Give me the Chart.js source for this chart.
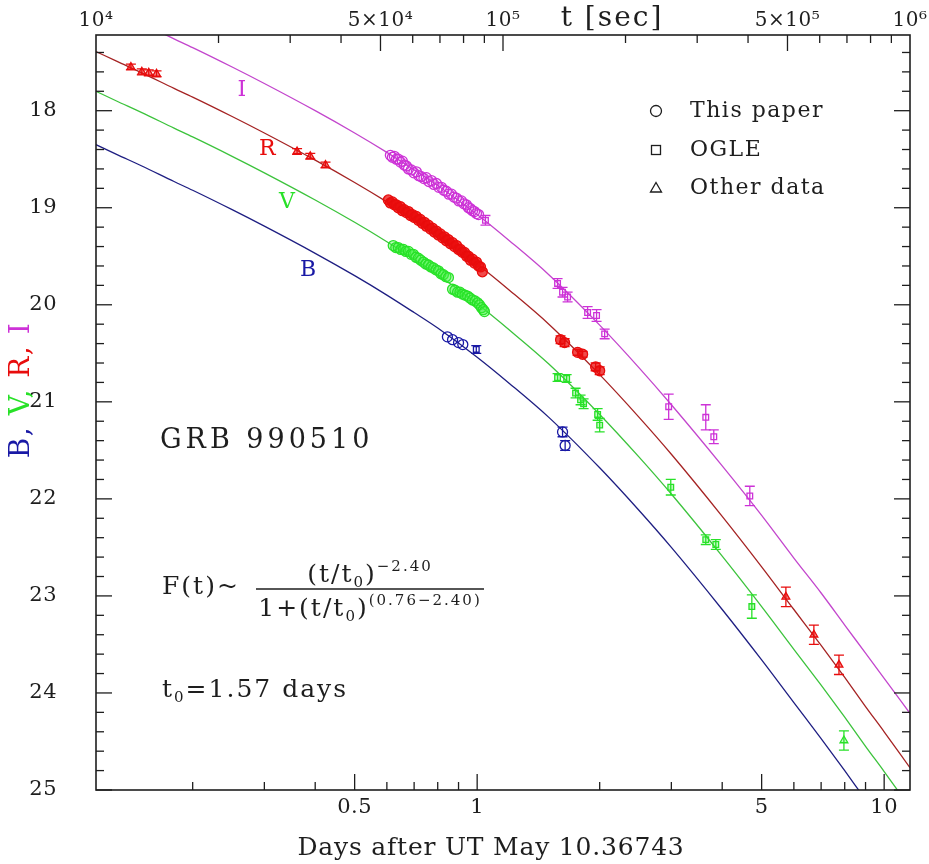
<!DOCTYPE html>
<html><head><meta charset="utf-8">
<script src="https://cdn.jsdelivr.net/npm/chart.js@4.4.1/dist/chart.umd.min.js"></script>
<style>html,body{margin:0;padding:0;background:#fff;overflow:hidden}</style>
</head><body>
<canvas id="c" width="929" height="864"></canvas>
<script>
const FONT = "'DejaVu Serif', 'Liberation Serif', serif";

// ---------- axes ----------
const xDaysMin = 0.11574, xDaysMax = 11.574;
const xSecMin = 1e4, xSecMax = 1e6;
const yMin = 17.22, yMax = 25;
const yMajorTicks = [18,19,20,21,22,23,24,25];
const yMinorTicks = [17.4,17.6,17.8,18.2,18.4,18.6,18.8,19.2,19.4,19.6,19.8,20.2,20.4,20.6,20.8,21.2,21.4,21.6,21.8,22.2,22.4,22.6,22.8,23.2,23.4,23.6,23.8,24.2,24.4,24.6,24.8];
const xMajorTicks = [0.5,1,5,10];
const xMajorLabels = ['0.5','1','5','10'];
const xMinorTicks = [0.2,0.3,0.4,0.6,0.7,0.8,0.9,2,3,4,6,7,8,9];
const secLabelTicks = [1e4,5e4,1e5,5e5,1e6];
const secLabels = ['10\u2074','5\u00d710\u2074','10\u2075','5\u00d710\u2075','10\u2076'];
const secMajorTicks = [5e4,1e5,5e5];
const secMinorTicks = [2e4,3e4,4e4,6e4,7e4,8e4,9e4,2e5,3e5,4e5,6e5,7e5,8e5,9e5];

// ---------- fitted curves ----------
const curveT = [0.1157,0.13,0.15,0.18,0.2,0.25,0.3,0.4,0.5,0.6,0.7,0.8,1.0,1.2,1.5,2.0,2.5,3.0,4.0,5.0,6.0,7.0,8.0,9.0,10.0,11.57];
const curveI = [16.88,16.98,17.10,17.26,17.35,17.55,17.72,18.00,18.23,18.43,18.61,18.77,19.07,19.34,19.69,20.21,20.65,21.03,21.66,22.17,22.61,22.97,23.30,23.59,23.85,24.21];
const curveR = [17.39,17.49,17.61,17.77,17.86,18.06,18.23,18.51,18.74,18.94,19.12,19.28,19.58,19.85,20.20,20.72,21.16,21.54,22.18,22.70,23.14,23.51,23.84,24.14,24.40,24.77];
const curveV = [17.80,17.90,18.02,18.18,18.27,18.47,18.64,18.92,19.15,19.35,19.53,19.69,19.99,20.26,20.61,21.13,21.57,21.95,22.59,23.11,23.55,23.92,24.25,24.55,24.81,25.18];
const curveB = [18.35,18.45,18.57,18.73,18.82,19.02,19.19,19.47,19.70,19.90,20.08,20.24,20.54,20.81,21.16,21.68,22.12,22.50,23.14,23.66,24.10,24.47,24.80,25.10,25.36,25.73];

// ---------- data: I band ----------
const iPaperT = [0.612,0.619,0.626,0.633,0.640,0.648,0.655,0.662,0.670,0.678,0.689,0.699,0.709,0.719,0.729,0.740,0.750,0.761,0.772,0.783,0.794,0.805,0.817,0.828,0.840,0.852,0.865,0.877,0.889,0.902,0.915,0.928,0.941,0.952,0.963,0.974,0.985,0.996,1.008];
const iPaperM = [18.46,18.48,18.47,18.50,18.50,18.53,18.52,18.56,18.57,18.60,18.61,18.64,18.63,18.67,18.68,18.70,18.69,18.73,18.72,18.76,18.75,18.79,18.79,18.82,18.83,18.86,18.86,18.89,18.90,18.93,18.93,18.96,18.97,19.00,19.01,19.03,19.04,19.06,19.07];
const iOgleT = [1.048,1.576,1.621,1.668,1.868,1.965,2.057,2.955,3.645,3.814,4.676];
const iOgleM = [19.13,19.78,19.87,19.92,20.08,20.11,20.30,21.05,21.16,21.36,21.97];
const iOgleE = [0.05,0.05,0.05,0.05,0.06,0.06,0.05,0.13,0.13,0.07,0.10];

// ---------- data: R band ----------
const rOtherT = [0.141,0.150,0.156,0.163,0.361,0.389,0.424,5.735,6.719,7.744];
const rOtherM = [17.55,17.60,17.61,17.62,18.42,18.47,18.56,23.01,23.40,23.71];
const rOtherE = [0.03,0.03,0.03,0.03,0.03,0.03,0.03,0.10,0.10,0.10];
const rPaperT = [0.605,0.612,0.619,0.626,0.633,0.640,0.648,0.655,0.662,0.670,0.678,0.686,0.693,0.701,0.709,0.717,0.725,0.733,0.742,0.750,0.759,0.768,0.776,0.785,0.794,0.803,0.812,0.822,0.831,0.840,0.850,0.860,0.870,0.880,0.890,0.900,0.910,0.920,0.931,0.942,0.952,0.963,0.974,0.985,0.996,1.008,1.019,1.030,1.603,1.640,1.765,1.816,1.955,2.000];
const rPaperM = [18.92,18.95,18.94,18.97,18.97,19.00,18.99,19.03,19.02,19.05,19.04,19.08,19.07,19.10,19.09,19.13,19.12,19.16,19.15,19.19,19.18,19.22,19.21,19.25,19.24,19.28,19.27,19.31,19.30,19.34,19.33,19.37,19.36,19.40,19.39,19.43,19.43,19.46,19.46,19.50,19.50,19.54,19.53,19.57,19.56,19.60,19.61,19.66,20.36,20.39,20.49,20.51,20.64,20.68];
const rPaperE = [0,0,0,0,0,0,0,0,0,0,0,0,0,0,0,0,0,0,0,0,0,0,0,0,0,0,0,0,0,0,0,0,0,0,0,0,0,0,0,0,0,0,0,0,0,0,0,0,0.04,0.04,0.03,0.03,0.04,0.04];

// ---------- data: V band ----------
const vPaperT = [0.622,0.631,0.640,0.649,0.659,0.668,0.678,0.688,0.697,0.707,0.717,0.727,0.738,0.748,0.759,0.770,0.781,0.792,0.803,0.815,0.826,0.838,0.850,0.870,0.882,0.895,0.907,0.920,0.933,0.947,0.960,0.974,0.988,1.002,1.013,1.025,1.035,1.042];
const vPaperM = [19.39,19.41,19.41,19.43,19.43,19.45,19.45,19.48,19.48,19.51,19.52,19.54,19.56,19.58,19.59,19.61,19.62,19.64,19.65,19.68,19.69,19.71,19.72,19.84,19.85,19.87,19.87,19.89,19.90,19.91,19.93,19.95,19.96,19.98,20.00,20.03,20.05,20.07];
const vOgleT = [1.576,1.659,1.745,1.795,1.826,1.977,2.000,2.990,3.645,3.858,4.730];
const vOgleM = [20.75,20.76,20.91,20.98,21.02,21.13,21.24,21.88,22.42,22.47,23.11];
const vOgleE = [0.04,0.04,0.05,0.05,0.05,0.06,0.07,0.08,0.05,0.05,0.12];
const vOtherT = [7.964];
const vOtherM = [24.49];
const vOtherE = [0.10];

// ---------- data: B band ----------
const bPaperT = [0.845,0.870,0.900,0.922,1.621,1.645];
const bPaperM = [20.33,20.36,20.39,20.41,21.31,21.45];
const bPaperE = [0,0,0,0,0.05,0.05];
const bOgleT = [0.995];
const bOgleM = [20.46];
const bOgleE = [0.04];

// ---------- colours ----------
const colI = 'rgb(205,50,215)', lineI = 'rgb(195,70,205)';
const colR = 'rgb(232,12,12)',  lineR = 'rgb(165,35,35)';
const colV = 'rgb(40,225,40)',  lineV = 'rgb(60,195,60)';
const colB = 'rgb(25,25,165)',  lineB = 'rgb(30,30,130)';
const ink = '#1e1e1e';

const pts = (T, M) => T.map((t, i) => ({x: t, y: M[i]}));

function markers(T, M, E, style, col, fill, r) {
  return {
    type: 'scatter', data: pts(T, M), errors: E || null,
    pointStyle: style, pointRadius: r, pointBorderWidth: 1.3,
    borderColor: col, backgroundColor: fill, pointBackgroundColor: fill, pointBorderColor: col,
    capWidth: 5
  };
}
function curve(M, col) {
  return {
    type: 'line', data: pts(curveT, M), borderColor: col, borderWidth: 1.3,
    pointRadius: 0, cubicInterpolationMode: 'monotone', fill: false
  };
}

const datasets = [
  markers(iPaperT, iPaperM, null, 'circle', colI, 'rgba(255,255,255,0)', 5),
  markers(iOgleT, iOgleM, iOgleE, 'rect', colI, 'rgba(255,255,255,0)', 4),
  markers(rPaperT, rPaperM, rPaperE, 'circle', colR, 'rgba(235,15,15,0.75)', 5),
  markers(rOtherT, rOtherM, rOtherE, 'triangle', colR, 'rgba(235,15,15,0.5)', 4.5),
  markers(vPaperT, vPaperM, null, 'circle', colV, 'rgba(60,240,60,0.35)', 5),
  markers(vOgleT, vOgleM, vOgleE, 'rect', colV, 'rgba(60,240,60,0.3)', 4),
  markers(vOtherT, vOtherM, vOtherE, 'triangle', colV, 'rgba(60,240,60,0.3)', 4.5),
  markers(bPaperT, bPaperM, bPaperE, 'circle', colB, 'rgba(255,255,255,0)', 5),
  markers(bOgleT, bOgleM, bOgleE, 'rect', colB, 'rgba(255,255,255,0)', 4),
  curve(curveI, lineI), curve(curveR, lineR), curve(curveV, lineV), curve(curveB, lineB)
];

// ---------- helpers ----------
function setFont(ctx, size, spacing) {
  ctx.font = size + 'px ' + FONT;
  if ('letterSpacing' in ctx) ctx.letterSpacing = (spacing || 0) + 'px';
}
function drawText(ctx, s, x, y, size, color, align, spacing) {
  ctx.save(); setFont(ctx, size, spacing); ctx.fillStyle = color;
  ctx.textAlign = align || 'left'; ctx.textBaseline = 'middle';
  ctx.fillText(s, x, y); ctx.restore();
}
function segWidth(ctx, segs, spacing) {
  let w = 0;
  segs.forEach(s => { setFont(ctx, s[1], spacing); w += ctx.measureText(s[0]).width; });
  return w;
}
function drawSegs(ctx, segs, x, y, color, spacing) {
  ctx.save(); ctx.fillStyle = color; ctx.textAlign = 'left'; ctx.textBaseline = 'alphabetic';
  let cx = x;
  segs.forEach(s => { setFont(ctx, s[1], spacing); ctx.fillText(s[0], cx, y + s[2]); cx += ctx.measureText(s[0]).width; });
  ctx.restore();
}

const errorBars = {
  id: 'errorBars',
  afterDatasetsDraw(chart) {
    const {ctx, chartArea: a} = chart;
    const ys = chart.scales.y;
    ctx.save();
    ctx.beginPath(); ctx.rect(a.left, a.top, a.right - a.left, a.bottom - a.top); ctx.clip();
    chart.data.datasets.forEach((ds, di) => {
      if (!ds.errors) return;
      const meta = chart.getDatasetMeta(di);
      ctx.strokeStyle = ds.borderColor; ctx.lineWidth = 1.3;
      meta.data.forEach((el, i) => {
        const e = ds.errors[i]; if (!e) return;
        const v = ds.data[i].y;
        const y1 = ys.getPixelForValue(v - e), y2 = ys.getPixelForValue(v + e);
        const x = el.x, cw = ds.capWidth;
        ctx.beginPath();
        ctx.moveTo(x, y1); ctx.lineTo(x, y2);
        ctx.moveTo(x - cw, y1); ctx.lineTo(x + cw, y1);
        ctx.moveTo(x - cw, y2); ctx.lineTo(x + cw, y2);
        ctx.stroke();
      });
    });
    ctx.restore();
  }
};

const frameAndText = {
  id: 'frameAndText',
  afterDraw(chart) {
    const {ctx, chartArea: a, scales} = chart;
    const X = scales.x, X2 = scales.x2, Y = scales.y;
    ctx.save();
    ctx.strokeStyle = ink; ctx.lineWidth = 1.6;
    ctx.strokeRect(a.left, a.top, a.right - a.left, a.bottom - a.top);
    ctx.lineWidth = 1.3;
    const tk = (x1, y1, x2, y2) => { ctx.beginPath(); ctx.moveTo(x1, y1); ctx.lineTo(x2, y2); ctx.stroke(); };
    yMajorTicks.forEach(v => { const y = Y.getPixelForValue(v); tk(a.left, y, a.left + 16, y); tk(a.right, y, a.right - 16, y); });
    yMinorTicks.forEach(v => { const y = Y.getPixelForValue(v); tk(a.left, y, a.left + 8, y); tk(a.right, y, a.right - 8, y); });
    xMajorTicks.forEach(v => { const x = X.getPixelForValue(v); tk(x, a.bottom, x, a.bottom - 16); });
    xMinorTicks.forEach(v => { const x = X.getPixelForValue(v); tk(x, a.bottom, x, a.bottom - 8); });
    secMajorTicks.forEach(v => { const x = X2.getPixelForValue(v); tk(x, a.top, x, a.top + 16); });
    secMinorTicks.forEach(v => { const x = X2.getPixelForValue(v); tk(x, a.top, x, a.top + 8); });
    ctx.restore();

    // tick labels
    yMajorTicks.forEach(v => drawText(ctx, String(v), 57, Y.getPixelForValue(v), 21, ink, 'right', 0.5));
    xMajorTicks.forEach((v, i) => drawText(ctx, xMajorLabels[i], X.getPixelForValue(v), a.bottom + 18, 21, ink, 'center', 0.5));
    secLabelTicks.forEach((v, i) => drawText(ctx, secLabels[i], X2.getPixelForValue(v), a.top - 14, 20, ink, 'center', 0.5));

    // band labels
    drawText(ctx, 'I', X.getPixelForValue(0.264), Y.getPixelForValue(17.79), 22, colI, 'center');
    drawText(ctx, 'R', X.getPixelForValue(0.305), Y.getPixelForValue(18.40), 22, colR, 'center');
    drawText(ctx, 'V', X.getPixelForValue(0.341), Y.getPixelForValue(18.94), 22, colV, 'center');
    drawText(ctx, 'B', X.getPixelForValue(0.384), Y.getPixelForValue(19.64), 22, colB, 'center');

    // legend
    const lx = 656, ly = [111, 150, 188];
    ctx.save(); ctx.strokeStyle = ink; ctx.lineWidth = 1.3;
    ctx.beginPath(); ctx.arc(lx, ly[0], 5.5, 0, Math.PI * 2); ctx.stroke();
    ctx.strokeRect(lx - 4.5, ly[1] - 4.5, 9, 9);
    ctx.beginPath(); ctx.moveTo(lx, ly[2] - 5.5); ctx.lineTo(lx + 5.5, ly[2] + 4); ctx.lineTo(lx - 5.5, ly[2] + 4); ctx.closePath(); ctx.stroke();
    ctx.restore();
    drawText(ctx, 'This paper', lx + 34, ly[0], 22, ink, 'left', 1.5);
    drawText(ctx, 'OGLE', lx + 34, ly[1], 22, ink, 'left', 1.5);
    drawText(ctx, 'Other data', lx + 34, ly[2], 22, ink, 'left', 1.5);

    // GRB name
    drawText(ctx, 'GRB 990510', 160, 441, 27, ink, 'left', 4);

    // formula
    drawSegs(ctx, [['F(t)~', 25, 0]], 162, 594, ink, 2);
    ctx.save(); ctx.strokeStyle = ink; ctx.lineWidth = 1.4;
    ctx.beginPath(); ctx.moveTo(256, 589); ctx.lineTo(484, 589); ctx.stroke(); ctx.restore();
    const num = [['(t/t', 25, 0], ['0', 15, 5], [')', 25, 0], ['\u22122.40', 15, -11]];
    const den = [['1+(t/t', 25, 0], ['0', 15, 5], [')', 25, 0], ['(0.76\u22122.40)', 15, -11]];
    const cxF = 370;
    const wn = segWidth(ctx, num, 2), wd = segWidth(ctx, den, 2);
    drawSegs(ctx, num, cxF - wn / 2, 582, ink, 2);
    drawSegs(ctx, den, cxF - wd / 2, 616, ink, 2);

    // t0
    drawSegs(ctx, [['t', 25, 0], ['0', 15, 5], ['=1.57 days', 25, 0]], 162, 697, ink, 2);

    // axis titles
    drawText(ctx, 'Days after UT May 10.36743', 491, 848, 25, ink, 'center', 0.8);
    drawText(ctx, 't [sec]', 612, 19, 28, ink, 'center', 2);

    // y title, multi-colour, rotated
    ctx.save();
    ctx.translate(22, 390); ctx.rotate(-Math.PI / 2);
    const ys = [['B, ', colB], ['V, ', colV], ['R, ', colR], ['I', colI]];
    setFont(ctx, 28, 1.5);
    let tw = 0; ys.forEach(s => tw += ctx.measureText(s[0]).width);
    let px = -tw / 2;
    ctx.textBaseline = 'middle'; ctx.textAlign = 'left';
    ys.forEach(s => { ctx.fillStyle = s[1]; ctx.fillText(s[0], px, 0); px += ctx.measureText(s[0]).width; });
    ctx.restore();
  }
};

const noTicks = {display: false};
new Chart(document.getElementById('c').getContext('2d'), {
  type: 'scatter',
  data: {datasets},
  options: {
    responsive: false, animation: false, devicePixelRatio: 1,
    layout: {padding: {left: 0, right: 19, top: 0, bottom: 0}},
    plugins: {legend: {display: false}, tooltip: {enabled: false}},
    scales: {
      x: {
        type: 'logarithmic', position: 'bottom', min: xDaysMin, max: xDaysMax,
        grid: {display: false, drawTicks: false}, border: {display: false}, ticks: noTicks,
        afterFit: s => { s.height = 74; }
      },
      x2: {
        type: 'logarithmic', position: 'top', min: xSecMin, max: xSecMax,
        grid: {display: false, drawTicks: false}, border: {display: false}, ticks: noTicks,
        afterFit: s => { s.height = 35; }
      },
      y: {
        type: 'linear', position: 'left', reverse: true, min: yMin, max: yMax,
        grid: {display: false, drawTicks: false}, border: {display: false}, ticks: noTicks,
        afterFit: s => { s.width = 96; }
      }
    }
  },
  plugins: [errorBars, frameAndText]
});
</script>
</body></html>
